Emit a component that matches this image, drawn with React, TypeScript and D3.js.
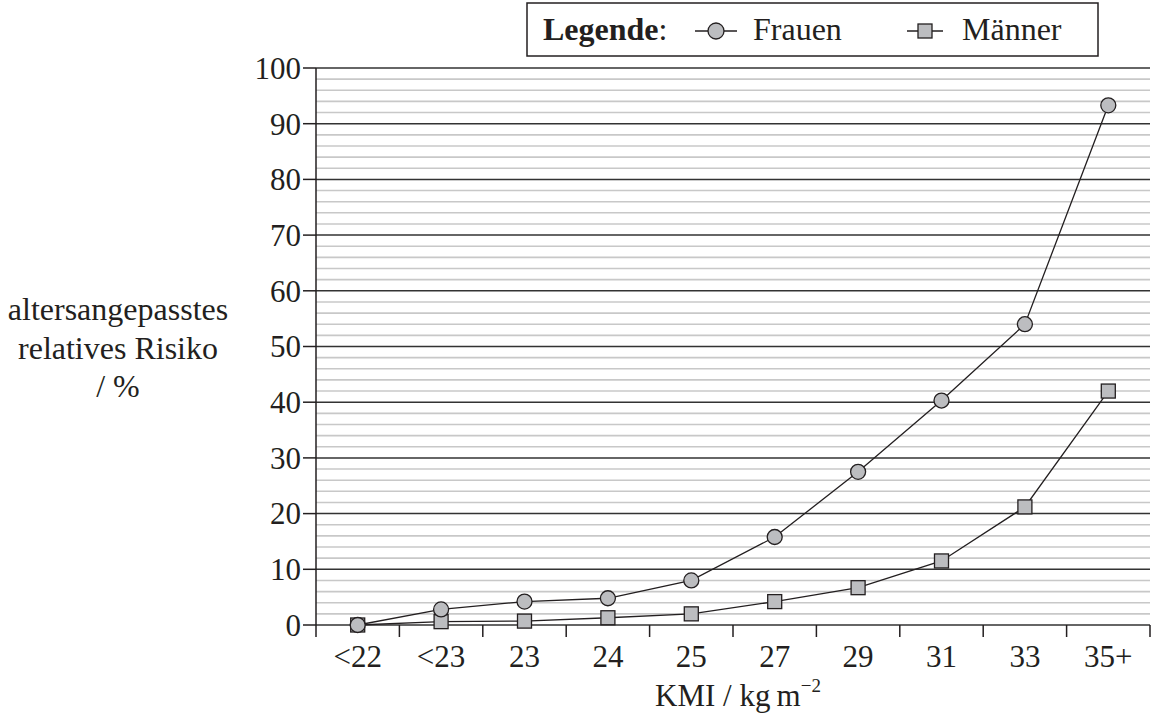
import { scaleBand, scaleLinear, line as d3_line, range } from "d3"

const categories = ["<22", "<23", "23", "24", "25", "27", "29", "31", "33", "35+"]
const frauen = [0, 2.8, 4.2, 4.8, 8, 15.8, 27.5, 40.3, 54, 93.3]
const maenner = [0, 0.6, 0.7, 1.3, 2, 4.2, 6.7, 11.5, 21.2, 42]
const yTicks = [0, 10, 20, 30, 40, 50, 60, 70, 80, 90, 100]
const yTitle = ["altersangepasstes", "relatives Risiko", "/ %"]

const W = 1151
const H = 717
const left = 316
const right = 1150
const top = 68
const bottom = 625
const font = "Liberation Serif, Times New Roman, serif"
const markFill = "#bcbdc0"
const ink = "#231f20"

export default function App() {
  const x = scaleBand<string>().domain(categories).range([left, right]).padding(0)
  const y = scaleLinear().domain([0, 100]).range([bottom, top])
  const cx = (i: number) => (x(categories[i]) ?? 0) + x.bandwidth() / 2

  const line = d3_line<number>()
    .x((_, i) => cx(i))
    .y((d) => y(d))

  // feine Linien alle 2 Einheiten
  const minor = range(0, 101, 2).filter((v) => v % 10 !== 0)
  const sq = 14

  return (
    <svg
      width={W}
      height={H}
      style={{ position: "absolute", left: 0, top: 0, background: "#fff", fontFamily: font }}
    >
      {/* Hilfslinien */}
      {minor.map((v) => (
        <line key={v} x1={left} x2={right} y1={y(v)} y2={y(v)} stroke="#c8c8c8" strokeWidth={1.6} />
      ))}
      {yTicks.map((v) => (
        <line key={v} x1={left} x2={right} y1={y(v)} y2={y(v)} stroke="#333" strokeWidth={1.5} />
      ))}

      {/* Y-Achse */}
      <line x1={left} x2={left} y1={top} y2={bottom} stroke={ink} strokeWidth={1.5} />
      {yTicks.map((v) => (
        <g key={v}>
          <line x1={left - 13} x2={left} y1={y(v)} y2={y(v)} stroke={ink} strokeWidth={1.5} />
          <text x={left - 15} y={y(v)} dy="0.35em" textAnchor="end" fontSize={31} fill={ink}>
            {v}
          </text>
        </g>
      ))}

      {/* X-Achse */}
      <line x1={left} x2={left} y1={bottom} y2={bottom + 12} stroke={ink} strokeWidth={1.5} />
      {categories.map((c, i) => (
        <g key={c}>
          <line
            x1={(x(c) ?? 0) + x.bandwidth()}
            x2={(x(c) ?? 0) + x.bandwidth()}
            y1={bottom}
            y2={bottom + 12}
            stroke={ink}
            strokeWidth={1.5}
          />
          <text x={cx(i)} y={667} textAnchor="middle" fontSize={31} fill={ink}>
            {c}
          </text>
        </g>
      ))}
      <text x={655} y={706} fontSize={31} fill={ink}>
        KMI / kg{"\u2009"}m
        <tspan dy={-14} fontSize={19}>
          −2
        </tspan>
      </text>

      {/* Y-Titel */}
      <text textAnchor="middle" fontSize={32} fill={ink}>
        {yTitle.map((t, i) => (
          <tspan key={i} x={118} y={320 + i * 38.5}>
            {t}
          </tspan>
        ))}
      </text>

      {/* Männer */}
      <path d={line(maenner) ?? ""} fill="none" stroke={ink} strokeWidth={1.3} />
      {maenner.map((v, i) => (
        <rect
          key={i}
          x={cx(i) - sq / 2}
          y={y(v) - sq / 2}
          width={sq}
          height={sq}
          fill={markFill}
          stroke={ink}
          strokeWidth={1.3}
        />
      ))}

      {/* Frauen */}
      <path d={line(frauen) ?? ""} fill="none" stroke={ink} strokeWidth={1.3} />
      {frauen.map((v, i) => (
        <circle key={i} cx={cx(i)} cy={y(v)} r={7.5} fill={markFill} stroke={ink} strokeWidth={1.3} />
      ))}

      {/* Legende */}
      <rect x={527} y={3} width={571} height={53} fill="#fff" stroke={ink} strokeWidth={1.5} />
      <text x={543} y={40} fontSize={32} fill={ink}>
        <tspan fontWeight="bold">Legende</tspan>:
      </text>
      <line x1={695} x2={737} y1={31} y2={31} stroke={ink} strokeWidth={1.3} />
      <circle cx={716} cy={31} r={8} fill={markFill} stroke={ink} strokeWidth={1.3} />
      <text x={753} y={40} fontSize={32} fill={ink}>
        Frauen
      </text>
      <line x1={907} x2={943} y1={31} y2={31} stroke={ink} strokeWidth={1.3} />
      <rect x={925 - sq / 2} y={31 - sq / 2} width={sq} height={sq} fill={markFill} stroke={ink} strokeWidth={1.3} />
      <text x={962} y={40} fontSize={32} fill={ink}>
        Männer
      </text>
    </svg>
  )
}
